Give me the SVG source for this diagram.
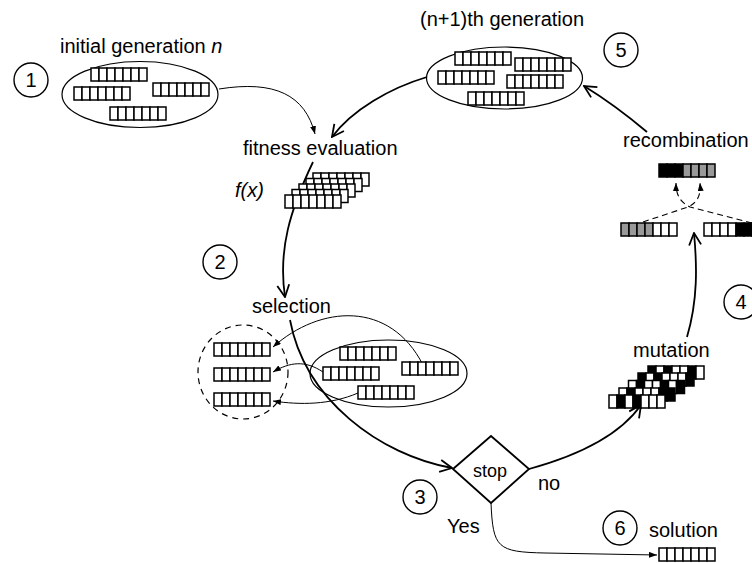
<svg xmlns="http://www.w3.org/2000/svg" width="752" height="563" viewBox="0 0 752 563">
<style>
.t{font-family:"Liberation Sans",Arial,Helvetica,sans-serif;font-size:20px;fill:#000}
.c{fill:#fff;stroke:#000;stroke-width:1.5}
.b{fill:#000;stroke:#000;stroke-width:1.5}
.g{fill:#999;stroke:#000;stroke-width:1.5}
.num{fill:#fff;stroke:#000;stroke-width:1.4}
.ell{fill:none;stroke:#000;stroke-width:1.2}
.thick{fill:none;stroke:#000;stroke-width:1.8}
.thin{fill:none;stroke:#000;stroke-width:1}
.dash{fill:none;stroke:#000;stroke-width:1.1;stroke-dasharray:6 4}
.dia{fill:#fff;stroke:#000;stroke-width:1.8}
</style>
<defs>
<g id="chr">
<rect class="c" x="0" y="0" width="8" height="13"/><rect class="c" x="8" y="0" width="8" height="13"/><rect class="c" x="16" y="0" width="8" height="13"/><rect class="c" x="24" y="0" width="8" height="13"/><rect class="c" x="32" y="0" width="8" height="13"/><rect class="c" x="40" y="0" width="8" height="13"/><rect class="c" x="48" y="0" width="8" height="13"/>
</g>
<marker id="open" markerUnits="userSpaceOnUse" viewBox="0 0 14 14" refX="13" refY="7" markerWidth="14" markerHeight="14" orient="auto"><path d="M1,1 L13,7 L1,13" fill="none" stroke="#000" stroke-width="1.8"/></marker>
<marker id="fill" markerUnits="userSpaceOnUse" viewBox="0 0 8 6" refX="8" refY="3" markerWidth="8" markerHeight="6" orient="auto"><path d="M0,0 L8,3 L0,6 z" fill="#000"/></marker>
</defs>

<g id="connectors">
<path class="thin" d="M219,89 C275,80 305,95 315,134" marker-end="url(#fill)"/>
<path class="thick" d="M427,77 C390,88 352,110 332,137" marker-end="url(#open)"/>
<path class="thick" d="M313,162 C290,210 278,250 285,297" marker-end="url(#open)"/>
<path class="thick" d="M290,320 C305,400 380,455 452,468" marker-end="url(#open)"/>
<path class="thick" d="M529,469 C580,455 620,435 641,405" marker-end="url(#open)"/>
<path class="thick" d="M687,337 C698,300 697,265 694,233" marker-end="url(#open)"/>
<path class="thick" d="M647,132 Q615,105 584,86" marker-end="url(#open)"/>
<path class="thin" d="M491,503 C493,548 497,552 545,553 L657,555" marker-end="url(#fill)"/>
<path class="thin" d="M423,365 C390,300 320,305 273,347" marker-end="url(#fill)"/>
<path class="thin" d="M323,372 C305,360 290,362 273,372" marker-end="url(#fill)"/>
<path class="thin" d="M358,393 C330,405 300,405 273,401" marker-end="url(#fill)"/>
<path class="dash" d="M643,222 L688,207 C698,202 701,195 700,183" marker-end="url(#fill)"/>
<path class="dash" d="M752,223 L690,207 C680,202 676,195 676,183" marker-end="url(#fill)"/>
</g>

<g id="initial-generation">
<text class="t" x="60" y="53">initial generation <tspan font-style="italic">n</tspan></text>
<ellipse class="ell" cx="140" cy="94.5" rx="78" ry="33"/>
<use href="#chr" x="91" y="68"/>
<use href="#chr" x="74" y="87"/>
<use href="#chr" x="153" y="83"/>
<use href="#chr" x="110" y="107"/>
</g>

<g id="next-generation">
<text class="t" x="420" y="26">(n+1)th generation</text>
<ellipse class="ell" cx="504.5" cy="78" rx="78" ry="31"/>
<use href="#chr" x="455" y="52"/>
<use href="#chr" x="515" y="58"/>
<use href="#chr" x="438" y="71"/>
<use href="#chr" x="507" y="75"/>
<use href="#chr" x="468" y="92"/>
</g>

<g id="fitness-evaluation">
<text class="t" x="243" y="155">fitness evaluation</text>
<text class="t" x="235" y="197" font-style="italic">f(x)</text>
<use href="#chr" x="313" y="173"/>
<use href="#chr" x="306" y="178.5"/>
<use href="#chr" x="299" y="184"/>
<use href="#chr" x="292" y="189.5"/>
<use href="#chr" x="285" y="195"/>
</g>

<g id="selection">
<text class="t" x="252" y="313">selection</text>
<ellipse class="ell" cx="243" cy="372" rx="45" ry="47" style="stroke-dasharray:6 5"/>
<use href="#chr" x="214" y="343"/>
<use href="#chr" x="214" y="368"/>
<use href="#chr" x="214" y="393"/>
<ellipse class="ell" cx="388.5" cy="373.5" rx="78.5" ry="33.5"/>
<use href="#chr" x="340" y="347"/>
<use href="#chr" x="323" y="367"/>
<use href="#chr" x="402" y="362"/>
<use href="#chr" x="358" y="386"/>
</g>

<g id="stop">
<polygon class="dia" points="453,469 491,436 529,469 491,503"/>
<text class="t" x="490" y="477" text-anchor="middle" style="font-size:18px">stop</text>
<text class="t" x="538" y="490">no</text>
<text class="t" x="447" y="533">Yes</text>
</g>

<g id="solution">
<text class="t" x="649" y="537">solution</text>
<use href="#chr" x="659" y="548"/>
</g>

<g id="mutation">
<text class="t" x="633" y="357">mutation</text>
<g transform="translate(648,366)"><rect class="b" x="0" y="0" width="8" height="13"/><rect class="c" x="8" y="0" width="8" height="13"/><rect class="b" x="16" y="0" width="8" height="13"/><rect class="c" x="24" y="0" width="8" height="13"/><rect class="c" x="32" y="0" width="8" height="13"/><rect class="b" x="40" y="0" width="8" height="13"/><rect class="c" x="48" y="0" width="8" height="13"/></g>
<g transform="translate(638,373)"><rect class="b" x="0" y="0" width="8" height="13"/><rect class="c" x="8" y="0" width="8" height="13"/><rect class="b" x="16" y="0" width="8" height="13"/><rect class="c" x="24" y="0" width="8" height="13"/><rect class="c" x="32" y="0" width="8" height="13"/><rect class="c" x="40" y="0" width="8" height="13"/><rect class="b" x="48" y="0" width="8" height="13"/></g>
<g transform="translate(628.5,380.5)"><rect class="c" x="0" y="0" width="8" height="13"/><rect class="b" x="8" y="0" width="8" height="13"/><rect class="c" x="16" y="0" width="8" height="13"/><rect class="c" x="24" y="0" width="8" height="13"/><rect class="b" x="32" y="0" width="8" height="13"/><rect class="c" x="40" y="0" width="8" height="13"/><rect class="b" x="48" y="0" width="8" height="13"/></g>
<g transform="translate(619,388)"><rect class="c" x="0" y="0" width="8" height="13"/><rect class="b" x="8" y="0" width="8" height="13"/><rect class="c" x="16" y="0" width="8" height="13"/><rect class="c" x="24" y="0" width="8" height="13"/><rect class="c" x="32" y="0" width="8" height="13"/><rect class="b" x="40" y="0" width="8" height="13"/><rect class="b" x="48" y="0" width="8" height="13"/></g>
<g transform="translate(609,395)"><rect class="c" x="0" y="0" width="8" height="13"/><rect class="b" x="8" y="0" width="8" height="13"/><rect class="c" x="16" y="0" width="8" height="13"/><rect class="b" x="24" y="0" width="8" height="13"/><rect class="c" x="32" y="0" width="8" height="13"/><rect class="c" x="40" y="0" width="8" height="13"/><rect class="c" x="48" y="0" width="8" height="13"/></g>
</g>

<g id="recombination">
<text class="t" x="623" y="147">recombination</text>
<g transform="translate(659,164)"><rect class="b" x="0" y="0" width="8" height="13"/><rect class="b" x="8" y="0" width="8" height="13"/><rect class="b" x="16" y="0" width="8" height="13"/><rect class="g" x="24" y="0" width="8" height="13"/><rect class="g" x="32" y="0" width="8" height="13"/><rect class="g" x="40" y="0" width="8" height="13"/><rect class="g" x="48" y="0" width="8" height="13"/></g>
<g transform="translate(621,223)"><rect class="g" x="0" y="0" width="8" height="13"/><rect class="g" x="8" y="0" width="8" height="13"/><rect class="g" x="16" y="0" width="8" height="13"/><rect class="g" x="24" y="0" width="8" height="13"/><rect class="c" x="32" y="0" width="8" height="13"/><rect class="c" x="40" y="0" width="8" height="13"/><rect class="c" x="48" y="0" width="8" height="13"/></g>
<g transform="translate(704,223)"><rect class="c" x="0" y="0" width="8" height="13"/><rect class="c" x="8" y="0" width="8" height="13"/><rect class="c" x="16" y="0" width="8" height="13"/><rect class="c" x="24" y="0" width="8" height="13"/><rect class="b" x="32" y="0" width="8" height="13"/><rect class="b" x="40" y="0" width="8" height="13"/><rect class="b" x="48" y="0" width="8" height="13"/></g>
</g>

<g id="step-1"><circle class="num" cx="31" cy="80" r="17"/><text class="t" x="31" y="87" text-anchor="middle">1</text></g>
<g id="step-2"><circle class="num" cx="220" cy="262" r="17"/><text class="t" x="220" y="269" text-anchor="middle">2</text></g>
<g id="step-3"><circle class="num" cx="420" cy="497" r="17"/><text class="t" x="420" y="504" text-anchor="middle">3</text></g>
<g id="step-4"><circle class="num" cx="741" cy="302" r="17"/><text class="t" x="741" y="309" text-anchor="middle">4</text></g>
<g id="step-5"><circle class="num" cx="621" cy="50" r="17"/><text class="t" x="621" y="57" text-anchor="middle">5</text></g>
<g id="step-6"><circle class="num" cx="620" cy="528" r="17"/><text class="t" x="620" y="535" text-anchor="middle">6</text></g>
</svg>
